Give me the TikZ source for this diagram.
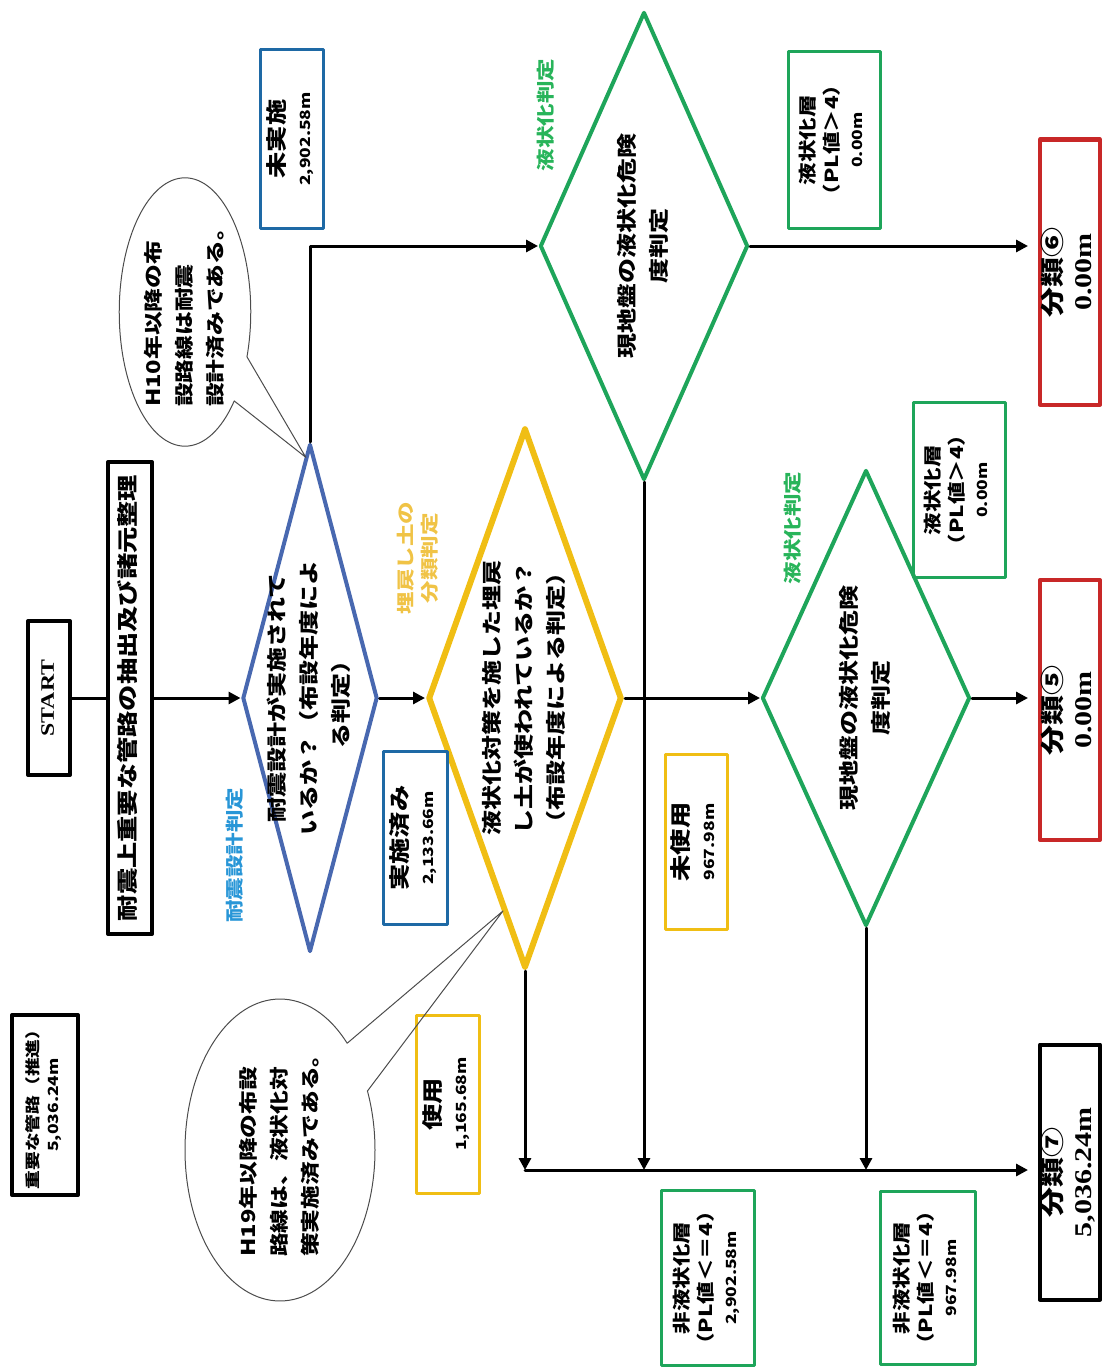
\documentclass[tikz,border=0pt]{standalone}
\usepackage{graphicx}
\usepackage{fontspec}
\setmainfont{Liberation Serif}
\newfontfamily\jp{Noto Sans CJK JP}
\usetikzlibrary{arrows.meta,calc,positioning,shapes.geometric,shapes.callouts}
\definecolor{flowblue}{RGB}{72,104,176}
\definecolor{boxblue}{RGB}{30,105,165}
\definecolor{lblblue}{RGB}{40,150,215}
\definecolor{flowgold}{RGB}{240,190,20}
\definecolor{lblgold}{RGB}{240,195,70}
\definecolor{flowgreen}{RGB}{30,165,90}
\definecolor{lblgreen}{RGB}{40,180,90}
\definecolor{flowred}{RGB}{200,40,40}
\newcommand\vtxt[2][c]{\rotatebox{90}{\scalebox{1.25}[1]{\begin{tabular}{@{}#1@{}}#2\end{tabular}}}}
\newcommand\mlen[1]{{\fontsize{7}{9}\selectfont #1}}

\begin{document}
\begin{tikzpicture}[x=0.5pt,y=-0.5pt,line cap=round,line join=round,
  dia/.style={diamond,draw,line width=2pt,inner sep=0pt},
  txt/.style={inner sep=0pt,font=\jp\bfseries\fontsize{10}{16}\selectfont},
  box/.style={draw,line width=1.5pt,inner sep=0pt,font=\jp\bfseries\fontsize{10.5}{13}\selectfont},
  gbox/.style={box,draw=flowgreen,font=\jp\bfseries\fontsize{9}{12}\selectfont},
  blk/.style={draw,line width=2pt,inner sep=0pt},
  cls/.style={blk,minimum width=30pt,font=\bfseries\fontsize{12}{15}\selectfont},
  lbl/.style={inner sep=0pt,font=\jp\bfseries\fontsize{9}{12}\selectfont},
  bubble/.style={ellipse callout,draw=black!70,line width=0.5pt,inner sep=0pt,
    callout pointer arc=22,font=\jp\bfseries\fontsize{9.5}{15.5}\selectfont},
  lnk/.style={line width=1.5pt},
  arr/.style={lnk,-{Triangle[length=6pt,width=6pt]}}]
 \useasboundingbox (0,0) rectangle (1107,1370);

 % start and extraction
 \node[blk,minimum width=21pt,minimum height=77pt,font=\bfseries\fontsize{9.5}{12}\selectfont]
  (start) at (49,698) {\vtxt{START}};
 \node[blk,minimum width=22pt,minimum height=236pt,font=\jp\bfseries\fontsize{10.5}{13}\selectfont]
  (main) at (130,698) {\vtxt{耐震上重要な管路の抽出及び諸元整理}};
 \node[blk,minimum width=33pt,minimum height=90pt,font=\jp\bfseries\fontsize{7.5}{10}\selectfont]
  (pipe) at (45,1105) {\vtxt{重要な管路（推進）\\\mlen{5,036.24m}}};

 % decisions
 \node[dia,draw=flowblue,minimum width=67.5pt,minimum height=254pt] (bd) at (310,698) {};
 \node[txt] (bd-t) at (bd) {\vtxt{耐震設計が実施されて\\いるか？（布設年度によ\\る判定）}};
 \node[dia,draw=flowgold,line width=3pt,minimum width=97pt,minimum height=270pt] (yd) at (525,698) {};
 \node[txt] (yd-t) at (yd) {\vtxt{液状化対策を施した埋戻\\し土が使われているか？\\（布設年度による判定）}};
 \node[dia,draw=flowgreen,minimum width=104pt,minimum height=234pt] (g1) at (644,246) {};
 \node[txt] (g1-t) at (g1) {\vtxt{現地盤の液状化危険\\度判定}};
 \node[dia,draw=flowgreen,minimum width=104pt,minimum height=228pt] (g2) at (866,698) {};
 \node[txt] (g2-t) at (g2) {\vtxt{現地盤の液状化危険\\度判定}};

 % decision labels
 \node[lbl,text=lblblue] (bd-l) at (237,855) {\vtxt{耐震設計判定}};
 \node[lbl,text=lblgold] (yd-l) at (420,558) {\vtxt{埋戻し土の\\分類判定}};
 \node[lbl,text=lblgreen] (g1-l) at (548,115) {\vtxt{液状化判定}};
 \node[lbl,text=lblgreen] (g2-l) at (795,528) {\vtxt{液状化判定}};

 % lengths
 \node[box,draw=boxblue,minimum width=31.5pt,minimum height=89pt] (notdone) at (292,139) {\vtxt{未実施\\\mlen{2,902.58m}}};
 \node[box,draw=boxblue,minimum width=32pt,minimum height=86.5pt] (done) at (415,838) {\vtxt{実施済み\\\mlen{2,133.66m}}};
 \node[box,draw=flowgold,minimum width=31.5pt,minimum height=89pt] (used) at (448,1104) {\vtxt{使用\\\mlen{1,165.68m}}};
 \node[box,draw=flowgold,minimum width=31pt,minimum height=87.5pt] (unused) at (696,842) {\vtxt{未使用\\\mlen{967.98m}}};
 \node[gbox,minimum width=46pt,minimum height=88pt] (liq6) at (834,140) {\vtxt{液状化層\\（PL値＞4）\\\mlen{0.00m}}};
 \node[gbox,minimum width=46pt,minimum height=87.5pt] (liq5) at (959,490) {\vtxt{液状化層\\（PL値＞4）\\\mlen{0.00m}}};
 \node[gbox,minimum width=46.5pt,minimum height=87.5pt] (nonliq1) at (708,1278) {\vtxt{非液状化層\\（PL値＜＝4）\\\mlen{2,902.58m}}};
 \node[gbox,minimum width=47.5pt,minimum height=86.5pt] (nonliq2) at (928,1278) {\vtxt{非液状化層\\（PL値＜＝4）\\\mlen{967.98m}}};

 % classes
 \node[cls,draw=flowred,minimum height=132.5pt] (cls6) at (1070,272) {\vtxt{{\jp 分類⑥}\\0.00m}};
 \node[cls,draw=flowred,minimum height=130pt] (cls5) at (1070,710) {\vtxt{{\jp 分類⑤}\\0.00m}};
 \node[cls,minimum height=127.5pt] (cls7) at (1070,1172) {\vtxt{{\jp 分類⑦}\\5,036.24m}};

 % notes
 \coordinate (tip1) at ($(bd.north)!0.06!(bd.west)$);
 \coordinate (tip2) at ($(yd.west)!0.78!(yd.south)$);
 \node[bubble,minimum width=62pt,minimum height=112pt,callout absolute pointer={(tip1)}]
  (note1) at (185,312) {\vtxt[l]{H10年以降の布\\設路線は耐震\\設計済みである。}};
 \node[bubble,minimum width=95pt,minimum height=150pt,callout absolute pointer={(tip2)}]
  (note2) at (280,1150) {\vtxt[l]{H19年以降の布設\\路線は、液状化対\\策実施済みである。}};

 % connectors
 \coordinate (bus) at (525,1170);
 \draw[lnk] (start) -- (main);
 \draw[arr] (main) -- (bd);
 \draw[arr] (bd) -- (yd);
 \draw[arr] (yd) -- (g2);
 \draw[arr] (bd.north) |- (g1.west);
 \draw[arr,shorten >=5pt] (g1.east) -- (g1.east -| cls6.west);
 \draw[arr,shorten >=5pt] (g2.east) -- (g2.east -| cls5.west);
 \draw[arr] (yd.south) -- (bus);
 \draw[arr] (g1.south) -- (g1.south |- bus);
 \draw[arr] (g2.south) -- (g2.south |- bus);
 \draw[arr,shorten >=5pt] (bus) -- (bus -| cls7.west);
\end{tikzpicture}
\end{document}
